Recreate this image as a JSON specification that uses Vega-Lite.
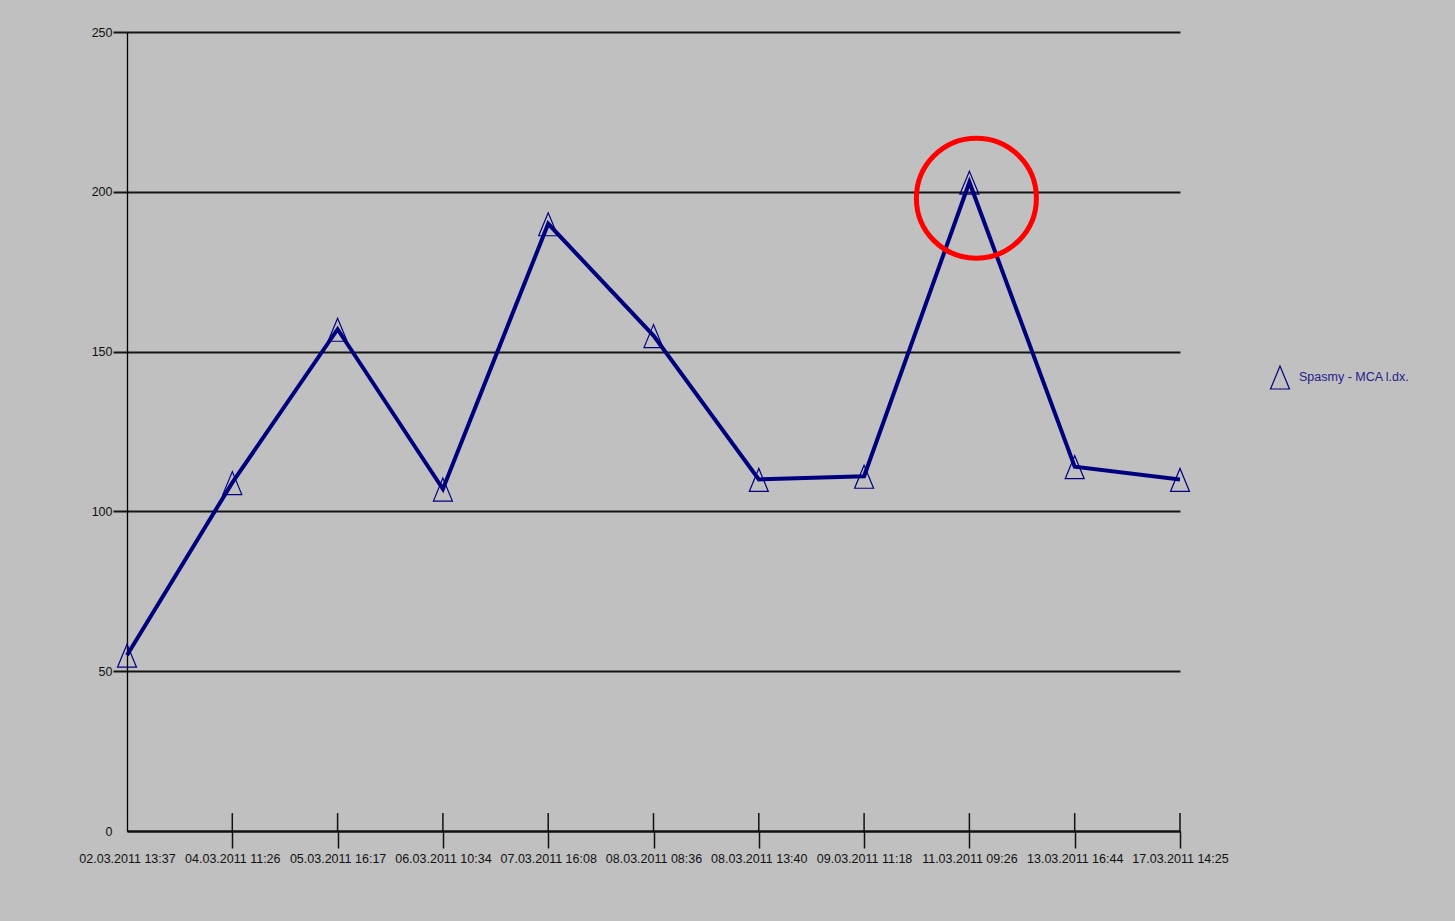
{
  "$schema": "https://vega.github.io/schema/vega-lite/v6.json",
  "width": 1053,
  "height": 799,
  "autosize": "none",
  "padding": {"left": 127, "top": 32, "right": 275, "bottom": 90},
  "background": "#c0c0c0",
  "config": {
    "view": {"stroke": null},
    "font": "Liberation Sans, Arial, sans-serif"
  },
  "data": {
    "values": [
      {"time": "02.03.2011 13:37", "value": 55},
      {"time": "04.03.2011 11:26", "value": 109},
      {"time": "05.03.2011 16:17", "value": 157},
      {"time": "06.03.2011 10:34", "value": 107},
      {"time": "07.03.2011 16:08", "value": 190},
      {"time": "08.03.2011 08:36", "value": 155},
      {"time": "08.03.2011 13:40", "value": 110},
      {"time": "09.03.2011 11:18", "value": 111},
      {"time": "11.03.2011 09:26", "value": 203},
      {"time": "13.03.2011 16:44", "value": 114},
      {"time": "17.03.2011 14:25", "value": 110}
    ]
  },
  "encoding": {
    "x": {
      "field": "time", "type": "ordinal", "sort": null,
      "scale": {
        "type": "point", "padding": 0,
        "domain": [
          "02.03.2011 13:37", "04.03.2011 11:26", "05.03.2011 16:17", "06.03.2011 10:34",
          "07.03.2011 16:08", "08.03.2011 08:36", "08.03.2011 13:40", "09.03.2011 11:18",
          "11.03.2011 09:26", "13.03.2011 16:44", "17.03.2011 14:25"
        ]
      },
      "axis": {
        "title": null, "labelAngle": 0, "grid": false, "orient": "bottom",
        "domainColor": "#111111", "domainWidth": 2,
        "tickSize": 17, "tickWidth": 1.5,
        "tickColor": {"condition": {"test": "datum.value === '02.03.2011 13:37'", "value": "transparent"}, "value": "#111111"},
        "labelPadding": 4, "labelFontSize": 12.5, "labelColor": "#111111"
      }
    },
    "y": {
      "field": "value", "type": "quantitative",
      "scale": {"domain": [0, 250], "nice": false},
      "axis": {
        "title": null,
        "values": [0, 50, 100, 150, 200, 250],
        "grid": true, "gridColor": "#151515", "gridWidth": 2, "gridOpacity": 1,
        "tickSize": 14, "tickWidth": 2,
        "tickColor": {"condition": {"test": "datum.value === 0", "value": "transparent"}, "value": "#151515"},
        "domainColor": "#000000", "domainWidth": 1.3,
        "labelPadding": 1, "labelFontSize": 12.5, "labelColor": "#111111"
      }
    }
  },
  "layer": [
    {
      "transform": [{"filter": "datum.time !== '02.03.2011 13:37'"}],
      "mark": {"type": "rule", "color": "#111111", "strokeWidth": 1.5},
      "encoding": {
        "y": {"datum": 0},
        "y2": {"datum": 5.6}
      }
    },
    {
      "mark": {"type": "point", "shape": "M0,-1.1L-0.95,1.2L0.95,1.2Z", "size": 400, "filled": false, "strokeWidth": 1.2, "opacity": 1},
      "encoding": {
        "color": {
          "datum": "Spasmy - MCA l.dx.",
          "scale": {"range": ["#000080"]},
          "legend": {
            "title": null,
            "orient": "none",
            "legendX": 1142,
            "legendY": 334,
            "padding": 0,
            "symbolType": "M0,-1.1L-0.95,1.2L0.95,1.2Z",
            "symbolSize": 400,
            "symbolStrokeWidth": 1.2,
            "symbolFillColor": "transparent",
            "labelFont": "Liberation Sans, Arial, sans-serif",
            "labelFontSize": 12.5,
            "labelColor": "#20208a",
            "labelOffset": 8
          }
        }
      }
    },
    {
      "mark": {"type": "line", "color": "#00007f", "strokeWidth": 4, "strokeJoin": "miter"}
    },
    {
      "transform": [{"filter": "datum.time === '11.03.2011 09:26'"}],
      "mark": {"type": "point", "shape": "circle", "size": 14400, "filled": false, "stroke": "#ff0000", "strokeWidth": 5, "opacity": 1, "xOffset": 7, "yOffset": 16}
    }
  ]
}
